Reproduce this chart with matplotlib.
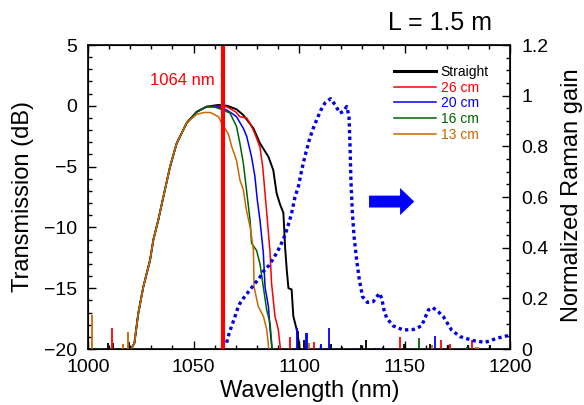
import matplotlib
matplotlib.use("Agg")
import matplotlib.pyplot as plt
from matplotlib.lines import Line2D
from matplotlib.patches import FancyArrow
from matplotlib.ticker import MultipleLocator

plt.rcParams['font.family'] = ['Liberation Sans', 'DejaVu Sans']

# ---- transmission spectra (dB) ----
edge_wl = [1019.0, 1020.5, 1022.0, 1023.8, 1026.2, 1029.4, 1031.0, 1033.3,
           1035.7, 1038.9, 1042.0, 1046.8, 1051.5, 1056.2]
edge_db = [-21.0, -20.0, -19.5, -17.1, -14.9, -12.7, -11.0, -9.4,
           -7.5, -5.0, -3.1, -1.4, -0.5, -0.07]

straight_wl = edge_wl + [1061.8, 1066.0, 1070.4, 1073.6, 1076.0, 1078.4, 1081.5,
                         1085.5, 1087.8, 1089.4, 1091.0, 1092.6, 1093.4, 1094.2,
                         1095.0, 1096.5, 1097.3, 1098.9, 1100.0, 1101.0]
straight_db = edge_db + [0.07, 0.0, -0.29, -0.76, -1.3, -1.85, -3.08,
                         -4.19, -5.28, -7.2, -8.1, -8.8, -11.6, -13.5,
                         -15.0, -15.1, -17.3, -18.4, -19.5, -21.0]

cm26_wl = edge_wl + [1060.0, 1064.0, 1066.0, 1070.0, 1072.0, 1075.2, 1077.0,
                     1079.1, 1081.5, 1082.8, 1083.9, 1085.0, 1086.3, 1087.0,
                     1088.6, 1090.2, 1091.5]
cm26_db = edge_db + [-0.05, -0.05, -0.1, -0.5, -0.9, -1.0, -1.5,
                     -2.3, -3.4, -5.0, -7.2, -9.4, -12.1, -14.6,
                     -17.3, -18.4, -20.5]

cm20_wl = edge_wl + [1060.0, 1062.0, 1065.7, 1068.0, 1070.4, 1073.6, 1075.2,
                     1077.5, 1079.1, 1080.2, 1081.5, 1083.1, 1083.9, 1085.5,
                     1086.3, 1087.5]
cm20_db = edge_db + [-0.08, -0.1, -0.35, -0.6, -0.9, -1.85, -2.5,
                     -4.2, -5.8, -7.7, -9.4, -12.1, -14.9, -16.5,
                     -18.4, -20.5]

cm16_wl = edge_wl + [1060.0, 1064.0, 1067.3, 1070.4, 1072.0, 1073.6, 1074.9,
                     1076.8, 1077.5, 1079.9, 1081.5, 1083.1, 1084.7, 1086.3,
                     1087.5]
cm16_db = edge_db + [-0.1, -0.35, -0.6, -1.7, -3.1, -4.7, -6.6,
                     -9.4, -11.3, -11.9, -13.0, -14.9, -16.8, -17.9,
                     -20.5]

cm13_wl = edge_wl[:-2] + [1051.5, 1055.0, 1058.0, 1061.8, 1064.2, 1066.5, 1068.2,
                          1070.4, 1072.0, 1073.6, 1075.0, 1077.1, 1078.4, 1078.7,
                          1080.7, 1083.1, 1084.7, 1086.0]
cm13_db = edge_db[:-2] + [-0.7, -0.55, -0.55, -0.9, -1.7, -2.3, -3.4,
                          -4.5, -6.1, -6.9, -8.5, -10.2, -11.9, -14.9,
                          -16.5, -17.3, -18.4, -20.5]

# noise-floor spikes (wavelength, peak dB)
straight_spk_wl = [1009.6, 1012.0, 1019.6, 1099.5, 1102.4, 1115.2, 1120.2, 1129.2,
                   1131.8, 1136.0, 1140.0, 1149.9, 1162.1, 1170.8, 1180.3, 1190.5]
straight_spk_db = [-19.5, -19.5, -19.4, -18.5, -19.3, -19.6, -19.8, -19.7,
                   -19.3, -19.9, -19.8, -19.6, -19.6, -19.7, -19.7, -19.7]
cm26_spk_wl = [1011.2, 1095.7, 1107.3, 1148.1, 1167.1, 1171.6, 1181.8]
cm26_spk_db = [-18.3, -19.0, -19.4, -19.0, -19.3, -19.6, -19.3]
cm20_spk_wl = [1098.9, 1103.2, 1103.9, 1110.4, 1114.4, 1127.3, 1138.0, 1164.5]
cm20_spk_db = [-18.3, -18.7, -18.7, -19.6, -18.3, -19.9, -19.9, -18.9]
cm16_spk_wl = [1005.7, 1157.0, 1179.5]
cm16_spk_db = [-19.9, -19.1, -19.8]
cm13_spk_wl = [1002.0, 1016.4, 1018.8, 1104.9, 1163.2, 1183.7, 1185.0]
cm13_spk_db = [-17.2, -19.6, -18.6, -19.5, -19.7, -19.8, -19.8]

# ---- normalized Raman gain ----
raman_wl = [1065.7, 1066.9, 1067.8, 1069.4, 1070.8, 1072.0, 1073.6, 1075.2, 1077.1,
            1078.8, 1081.0, 1083.1, 1085.9, 1088.9, 1091.0, 1093.4, 1095.4, 1096.5,
            1098.1, 1099.7, 1101.3, 1102.8, 1104.9, 1106.5, 1108.4, 1110.3, 1112.3,
            1115.0, 1117.1, 1119.4, 1121.0, 1122.6, 1123.7, 1124.2, 1124.6, 1125.3,
            1126.1, 1127.3, 1128.6, 1130.1, 1132.4, 1135.2, 1138.1, 1139.2, 1140.3,
            1141.6, 1144.7, 1149.4, 1154.2, 1158.1, 1161.3, 1163.3, 1166.0, 1168.4,
            1172.3, 1176.3, 1182.6, 1188.2, 1193.7, 1200.0]
raman_gain = [0.025, 0.062, 0.084, 0.121, 0.157, 0.18, 0.20, 0.217, 0.237,
              0.256, 0.277, 0.306, 0.331, 0.372, 0.404, 0.45, 0.503, 0.536,
              0.60, 0.641, 0.707, 0.76, 0.826, 0.866, 0.905, 0.942, 0.971,
              0.988, 0.964, 0.931, 0.938, 0.957, 0.918, 0.80, 0.668, 0.536,
              0.444, 0.352, 0.273, 0.207, 0.184, 0.187, 0.22, 0.20, 0.154,
              0.121, 0.091, 0.075, 0.077, 0.091, 0.154, 0.164, 0.147, 0.128,
              0.075, 0.049, 0.033, 0.026, 0.042, 0.055]

labels = ["Straight", "26 cm", "20 cm", "16 cm", "13 cm"]
colors = ["#000000", "#ff0000", "#0000ff", "#006400", "#cc6600"]
widths = [1.4, 1.1, 1.1, 1.1, 1.1]
series = [(straight_wl, straight_db, straight_spk_wl, straight_spk_db),
          (cm26_wl, cm26_db, cm26_spk_wl, cm26_spk_db),
          (cm20_wl, cm20_db, cm20_spk_wl, cm20_spk_db),
          (cm16_wl, cm16_db, cm16_spk_wl, cm16_spk_db),
          (cm13_wl, cm13_db, cm13_spk_wl, cm13_spk_db)]

pump_wl = 1064

fig = plt.figure(figsize=(5.84, 4.05), dpi=100)
ax = fig.add_axes([88 / 584, 56 / 405, 422 / 584, 304 / 405])

for (wl, db, swl, sdb), c, lw in zip(series, colors, widths):
    ax.plot(wl, db, color=c, lw=lw, zorder=3)
    ax.vlines(swl, -21, sdb, color=c, lw=1.3, zorder=3)

ax.axvline(pump_wl, color="#ff0000", lw=3, zorder=5)
ax.text(1060.2, 1.71, f"{pump_wl} nm", color="#ff0000", fontsize=12,
        ha="right", va="baseline")

ax.set_xlim(1000, 1200)
ax.set_ylim(-20, 5)
ax.xaxis.set_major_locator(MultipleLocator(50))
ax.xaxis.set_minor_locator(MultipleLocator(10))
ax.yaxis.set_major_locator(MultipleLocator(5))
ax.yaxis.set_minor_locator(MultipleLocator(1))
ax.tick_params(which="both", direction="in", top=True, right=False,
               labelsize=14, width=1)
ax.tick_params(which="major", length=6)
ax.tick_params(which="minor", length=3)
ax.tick_params(axis="y", pad=8)
ax.tick_params(axis="x", pad=7.5)
for s in ax.spines.values():
    s.set_linewidth(1.2)

ax2 = ax.twinx()
ax2.plot(raman_wl, raman_gain, color="#0000e6", lw=2.4,
         linestyle=(0, (1, 1)), dash_capstyle="butt", zorder=4)
ax2.add_patch(FancyArrow(1133.2, 0.582, 1154.6 - 1133.2, 0, width=0.047,
                         head_width=0.107, head_length=6.7,
                         length_includes_head=True, color="#0000ff", lw=0))
ax2.set_ylim(0, 1.2)
ax2.yaxis.set_minor_locator(MultipleLocator(0.05))
ax2.set_yticks([0, 0.2, 0.4, 0.6, 0.8, 1.0, 1.2])
ax2.set_yticklabels(["0", "0.2", "0.4", "0.6", "0.8", "1", "1.2"])
ax2.tick_params(which="both", direction="in", labelsize=14, width=1, pad=8)
ax2.tick_params(which="major", length=6)
ax2.tick_params(which="minor", length=3)

fig.text(23 / 584, 1 - 196 / 405, "Transmission (dB)", rotation=90,
         ha="center", va="center", fontsize=17)
fig.text(310 / 584, 1 - 391 / 405, "Wavelength (nm)", ha="center",
         va="center", fontsize=17)
fig.text(572 / 584, 1 - 195 / 405, "Normalized Raman gain", rotation=90,
         ha="center", va="center", fontsize=17)
fig.text(492 / 584, 1 - 23 / 405, "L = 1.5 m", ha="right", va="center",
         fontsize=18)

handles = [Line2D([], [], color=c, lw=(2.2 if i == 0 else 1.1))
           for i, c in enumerate(colors)]
leg = ax2.legend(handles, labels, loc="upper left",
                 bbox_to_anchor=((394 - 88) / 422, (349 - 65) / 304),
                 frameon=False, fontsize=10, handlelength=3.0,
                 handletextpad=0.36, labelspacing=0.12, borderpad=0,
                 borderaxespad=0, labelcolor="linecolor")

fig.savefig("out.png", dpi=100)
